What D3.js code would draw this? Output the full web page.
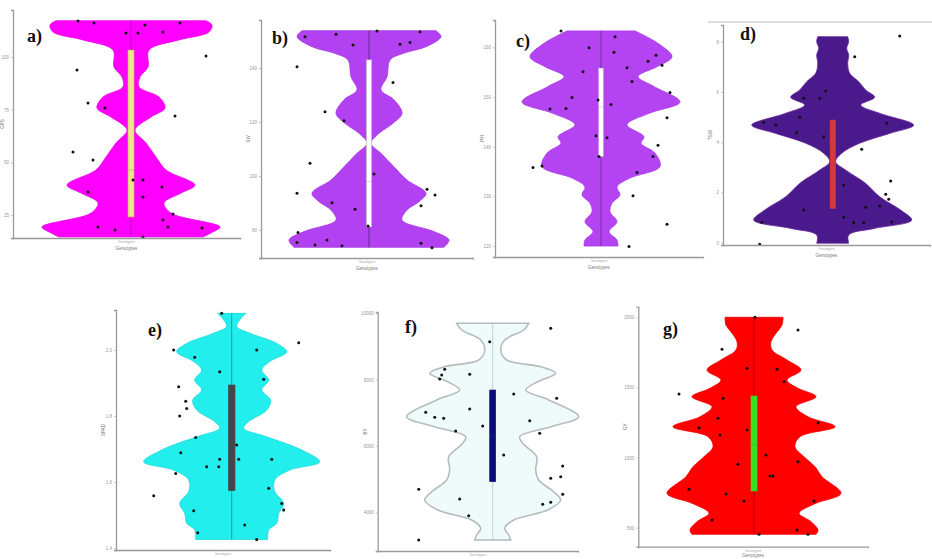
<!DOCTYPE html>
<html><head><meta charset="utf-8">
<script src="https://cdn.jsdelivr.net/npm/d3@7"></script>
<style>body{margin:0;background:#fff}svg{display:block}</style>
</head><body>
<svg id="chart" width="932" height="559"></svg>
<script>
// ---------- DATA ----------
// violin profiles: [value, density]
const profileA = [[117.2,75],[115.2,81],[111.9,78],[108.1,48],[103.3,18],[95.3,17],[90.5,9],[85.8,8],[81.0,28],[75.8,34],[71.5,20],[65.3,4],[59.2,15],[52.5,25],[46.4,35],[39.2,64],[35.4,50],[30.7,33],[25.9,40],[19.3,89],[16.5,80],[14.6,72]];
const pointsA = [[-53,117.1],[-37,116.1],[14,115.2],[49,116.1],[-5,111.4],[7,111.4],[32,111.9],[75,100.5],[-54,93.8],[-43,78.2],[-26,75.8],[44,72.0],[-58,54.9],[-38,51.1],[2,41.6],[12,41.6],[-43,35.9],[31,38.3],[12,33.5],[42,25.5],[32,22.6],[-33,19.3],[-16,17.9],[37,19.3],[71,18.8],[12,14.6]];
const boxA = [24.1, 46.4, 103.3];
const ticksA = [25, 50, 75, 100];

const profileB = [[153.8,67],[151.6,72],[147.9,57],[145.4,34],[143.0,21],[136.8,18],[131.9,12],[128.2,25],[123.2,33],[119.5,24],[115.8,10],[112.1,2],[108.4,12],[103.4,25],[98.5,38],[93.6,57],[90.5,50],[87.4,38],[83.7,33],[79.4,65],[76.3,80],[73.6,75]];
const pointsB = [[-64,151.6],[-33,152.5],[8,153.7],[51,153.4],[-16,148.5],[31,148.8],[41,149.4],[-72,140.5],[24,134.6],[-44,123.8],[-25,120.5],[-59,104.7],[5,100.7],[-72,93.6],[-37,90.1],[-14,87.7],[58,95.1],[66,93.0],[52,89.0],[-1,81.5],[-71,79.1],[-72,75.4],[-54,74.4],[-42,76.3],[-27,74.2],[52,75.1],[63,73.4]];
const boxB = [81.2, 97.9, 143.0];
const ticksB = [80, 100, 120, 140];

const profileC = [[163.3,34],[160.8,57],[158.1,71],[156.1,56],[154.1,37],[152.1,53],[149.0,79],[146.7,48],[144.4,26],[142.0,43],[140.7,40],[138.7,54],[136.0,59],[133.6,28],[131.9,16],[130.3,19],[128.6,11],[126.9,9],[124.9,16],[122.9,8],[121.2,16],[120.0,17]];
const pointsC = [[-40,163.3],[14,162.1],[-12,159.9],[13,159.0],[55,158.4],[47,157.2],[61,156.4],[26,155.9],[-18,155.1],[31,153.1],[69,150.9],[-29,149.9],[-3,149.4],[10,148.5],[-51,147.6],[-35,147.7],[66,145.8],[-5,142.2],[6,141.8],[57,140.3],[52,138.0],[-2,138.0],[-59,136.1],[-68,135.8],[36,134.8],[32,130.1],[66,124.4],[28,119.9]];
const boxC = [138.0, 148.0, 155.8];
const ticksC = [120, 130, 140, 150, 160];

const profileD = [[8.20,15],[8.00,16],[7.74,14],[7.47,16],[7.14,15],[6.74,17],[6.41,26],[6.08,33],[5.79,42],[5.48,28],[5.15,47],[4.68,81],[4.35,57],[3.96,27],[3.56,9],[3.22,3],[2.89,13],[2.36,33],[1.83,47],[1.30,68],[0.90,79],[0.57,42],[0.31,16],[-0.02,16]];
const pointsD = [[67,8.23],[22,7.40],[-7,6.04],[-13,5.75],[-29,5.75],[-33,4.99],[-69,4.79],[-57,4.68],[-36,4.38],[-9,4.22],[54,4.75],[29,3.72],[58,2.46],[11,2.30],[53,1.93],[56,1.73],[47,1.46],[33,1.41],[-29,1.30],[11,1.01],[21,0.80],[31,0.80],[59,0.82],[-71,0.81],[-73,-0.06]];
const boxD = [1.37, 3.1, 4.88];
const ticksD = [0, 2, 4, 6, 8];

const profileE = [[2.111,14],[2.091,8],[2.071,5],[2.051,18],[2.020,45],[1.995,55],[1.965,38],[1.939,30],[1.909,37],[1.879,30],[1.848,39],[1.818,35],[1.783,17],[1.763,12],[1.737,35],[1.697,70],[1.661,88],[1.636,58],[1.606,43],[1.571,43],[1.535,52],[1.505,47],[1.475,45],[1.455,37],[1.426,36]];
const pointsE = [[-10,2.111],[67,2.022],[-58,2.000],[25,2.000],[-37,1.978],[-12,1.934],[32,1.911],[-53,1.889],[-46,1.845],[-45,1.823],[-52,1.800],[-36,1.735],[5,1.712],[-51,1.689],[-12,1.669],[7,1.669],[40,1.669],[-25,1.646],[-13,1.646],[-56,1.626],[-78,1.558],[37,1.581],[50,1.535],[52,1.515],[-38,1.513],[13,1.470],[-34,1.446],[25,1.426]];
const boxE = [1.574, 1.685, 1.894];
const ticksE = [1.4, 1.6, 1.8, 2.0];

const profileF = [[9698,36],[9496,31],[9195,12],[8893,8],[8592,14],[8390,48],[8191,63],[7938,45],[7687,33],[7386,56],[6882,86],[6581,58],[6279,27],[6080,30],[5676,44],[5275,43],[4974,46],[4621,61],[4371,68],[4069,55],[3768,21],[3518,12],[3316,16],[3165,18]];
const pointsF = [[58,9548],[-3,9144],[-48,8311],[-51,8140],[-53,8019],[-23,8161],[21,7567],[64,7437],[-23,7114],[-67,7015],[-58,6864],[-49,6834],[37,6762],[-10,6602],[-37,6451],[47,6382],[11,5728],[70,5396],[68,5073],[58,5025],[-74,4693],[70,4543],[-33,4401],[58,4302],[50,4241],[-24,3897],[-74,3165]];
const boxF = [4923, 6300, 7687];
const ticksF = [4000, 6000, 8000, 10000];

const profileG = [[2000,29],[1945,28],[1886,22],[1826,17],[1767,18],[1696,33],[1624,47],[1553,33],[1494,44],[1434,62],[1363,42],[1291,54],[1220,81],[1149,46],[1078,41],[1006,50],[935,61],[864,68],[745,87],[674,62],[603,45],[543,57],[484,64],[453,62]];
const pointsG = [[1,2000],[44,1910],[-32,1772],[-7,1637],[23,1629],[30,1541],[-75,1453],[-31,1423],[-36,1280],[-55,1213],[64,1249],[-7,1197],[-34,1161],[12,1018],[-16,952],[44,971],[16,869],[19,869],[-65,774],[-28,740],[-10,690],[60,690],[-42,555],[43,484],[54,453],[5,453]];
const boxG = [762, 1090, 1439];
const ticksG = [500, 1000, 1500, 2000];

const panelLabels = ["a)", "b)", "c)", "d)", "e)", "f)", "g)"];
const yTitles = ["GPS", "SW", "PH", "TGW", "SPAD", "BY", "GY"];
const xLabel = "Genotypes";

// ---------- LAYOUT / STYLE ----------
const panels = [
  {label:panelLabels[0], prof:profileA, pts:pointsA, box:boxA, ticks:ticksA, fmt:"d", ax:13, top:10, bot:238, right:240, cx:131, t0px:215, t1px:57, lx:27, ly:42,
   fill:"#ff00ff", stroke:"#ee00ee", boxFill:"#ece58c", boxStroke:"#c8b860", whisk:"#b000b0", bw:3, title:yTitles[0]},
  {label:panelLabels[1], prof:profileB, pts:pointsB, box:boxB, ticks:ticksB, fmt:"d", ax:261, top:20, bot:258, right:473, cx:369, t0px:230, t1px:68, lx:272, ly:44,
   fill:"#b241f2", stroke:"#a536e6", boxFill:"#ffffff", boxStroke:"#bbbbbb", whisk:"#5a2080", bw:2.6, title:yTitles[1]},
  {label:panelLabels[2], prof:profileC, pts:pointsC, box:boxC, ticks:ticksC, fmt:"d", ax:495, top:20, bot:257, right:703, cx:601, t0px:246, t1px:47.3, lx:516, ly:47,
   fill:"#b444f2", stroke:"#a93ae8", boxFill:"#ffffff", boxStroke:"#cccccc", whisk:"#6a2a90", bw:2.2, title:yTitles[2]},
  {label:panelLabels[3], prof:profileD, pts:pointsD, box:boxD, ticks:ticksD, fmt:"d", ax:723, top:25, bot:245, right:930, cx:832.7, t0px:242.7, t1px:41.7, lx:740, ly:40,
   fill:"#4a1a8c", stroke:"#6a2a9a", boxFill:"#d9383a", boxStroke:"#d9383a", whisk:null, bw:2.6, title:yTitles[3]},
  {label:panelLabels[4], prof:profileE, pts:pointsE, box:boxE, ticks:ticksE, fmt:".1f", ax:116, top:310, bot:550, right:330, cx:231.7, t0px:548, t1px:350, lx:148, ly:336,
   fill:"#22eeee", stroke:"#1cd8d8", boxFill:"#464646", boxStroke:"#464646", whisk:"#1a8a8a", bw:3.3, title:yTitles[4]},
  {label:panelLabels[5], prof:profileF, pts:pointsF, box:boxF, ticks:ticksF, fmt:"d", ax:377.7, top:312, bot:551, right:578, cx:492.7, t0px:512.3, t1px:313.3, lx:405, ly:333,
   fill:"#effbfb", stroke:"#b4bcbc", boxFill:"#0c0c78", boxStroke:"#0c0c78", whisk:"#b8c8cc", bw:3, title:yTitles[5]},
  {label:panelLabels[6], prof:profileG, pts:pointsG, box:boxG, ticks:ticksG, fmt:"d", ax:638.3, top:306.7, bot:546.7, right:868, cx:754, t0px:527.7, t1px:317.3, lx:663, ly:335,
   fill:"#ff0000", stroke:"#f00000", boxFill:"#36e01e", boxStroke:"#36e01e", whisk:"#990000", bw:3, title:yTitles[6]}
];

const svg = d3.select("#chart");
const sans = "Arial, 'Liberation Sans', sans-serif";

// top border line of panel d
svg.append("line").attr("x1",708).attr("x2",932).attr("y1",22).attr("y2",22)
  .attr("stroke","#bbbbbb").attr("stroke-width",1);

panels.forEach(p => {
  const g = svg.append("g");
  const t = p.ticks;
  const y = d3.scaleLinear().domain([t[0], t[t.length-1]]).range([p.t0px, p.t1px]);
  const x = d3.scaleLinear().domain([-100, 100]).range([p.cx - 100, p.cx + 100]);

  // violin
  const area = d3.area()
    .y(d => y(d[0]))
    .x0(d => x(-d[1]))
    .x1(d => x(d[1]))
    .curve(d3.curveCatmullRom.alpha(0.5));
  g.append("path").datum(p.prof).attr("d", area)
    .attr("fill", p.fill).attr("stroke", p.stroke).attr("stroke-width", p.fill === "#effbfb" ? 1.6 : 0.8);

  // whisker line through violin
  const vals = p.prof.map(d => d[0]);
  if (p.whisk) {
    g.append("line").attr("x1", p.cx).attr("x2", p.cx)
      .attr("y1", y(d3.max(vals))).attr("y2", y(d3.min(vals)))
      .attr("stroke", p.whisk).attr("stroke-width", 0.8);
  }
  // box
  g.append("rect")
    .attr("x", x(-p.bw)).attr("width", x(p.bw) - x(-p.bw))
    .attr("y", y(p.box[2])).attr("height", y(p.box[0]) - y(p.box[2]))
    .attr("fill", p.boxFill).attr("stroke", p.boxStroke).attr("stroke-width", 0.6);
  g.append("line").attr("x1", x(-p.bw)).attr("x2", x(p.bw))
    .attr("y1", y(p.box[1])).attr("y2", y(p.box[1]))
    .attr("stroke", "#555").attr("stroke-width", 0.4).attr("opacity", 0.6);

  // points
  g.selectAll("circle.pt").data(p.pts).enter().append("circle")
    .attr("cx", d => x(d[0])).attr("cy", d => y(d[1])).attr("r", 1.5)
    .attr("fill", "#111");

  // axes
  const yAxisScale = y.copy().domain([y.invert(p.bot), y.invert(p.top)]).range([p.bot, p.top]);
  const yAxis = d3.axisLeft(yAxisScale).tickValues(t).tickSize(2).tickPadding(2).tickFormat(d3.format(p.fmt));
  const ya = g.append("g").attr("transform", `translate(${p.ax},0)`).call(yAxis);
  ya.select(".domain").attr("stroke", "#9a9a9a").attr("stroke-width", 1.3);
  ya.selectAll(".tick line").attr("stroke", "#aaa").attr("stroke-width", 0.6);
  ya.selectAll(".tick text").attr("font-size", 4.5).attr("fill", "#999").attr("font-family", sans);

  const xs = d3.scaleBand().domain([xLabel]).range([p.ax, p.right]);
  const xAxis = d3.axisBottom(xs).tickSize(1.5).tickPadding(1);
  const xa = g.append("g").attr("transform", `translate(0,${p.bot})`).call(xAxis);
  xa.select(".domain").attr("stroke", "#9a9a9a").attr("stroke-width", 1.3);
  xa.selectAll(".tick line").attr("stroke", "#aaa").attr("stroke-width", 0.6);
  xa.selectAll(".tick text").attr("font-size", 3.5).attr("fill", "#aaa").attr("font-family", sans);

  const titleY = Math.min(p.bot + 12, 557);
  if (titleY - p.bot > 8) {
    g.append("text").attr("x", (p.ax + p.right) / 2).attr("y", titleY)
      .attr("text-anchor", "middle").attr("font-size", 4.5).attr("fill", "#777")
      .attr("font-family", sans).text(xLabel);
  }

  g.append("text")
    .attr("transform", `translate(${Math.max(p.ax - 11, 4)},${(p.top + p.bot) / 2}) rotate(-90)`)
    .attr("text-anchor", "middle").attr("font-size", 4.5).attr("fill", "#777")
    .attr("font-family", sans).text(p.title);

  // panel label
  g.append("text").attr("x", p.lx).attr("y", p.ly)
    .attr("font-family", "'Liberation Serif', 'Times New Roman', serif")
    .attr("font-weight", "bold").attr("font-size", 18).attr("fill", "#111")
    .text(p.label);
});
</script>
</body></html>
